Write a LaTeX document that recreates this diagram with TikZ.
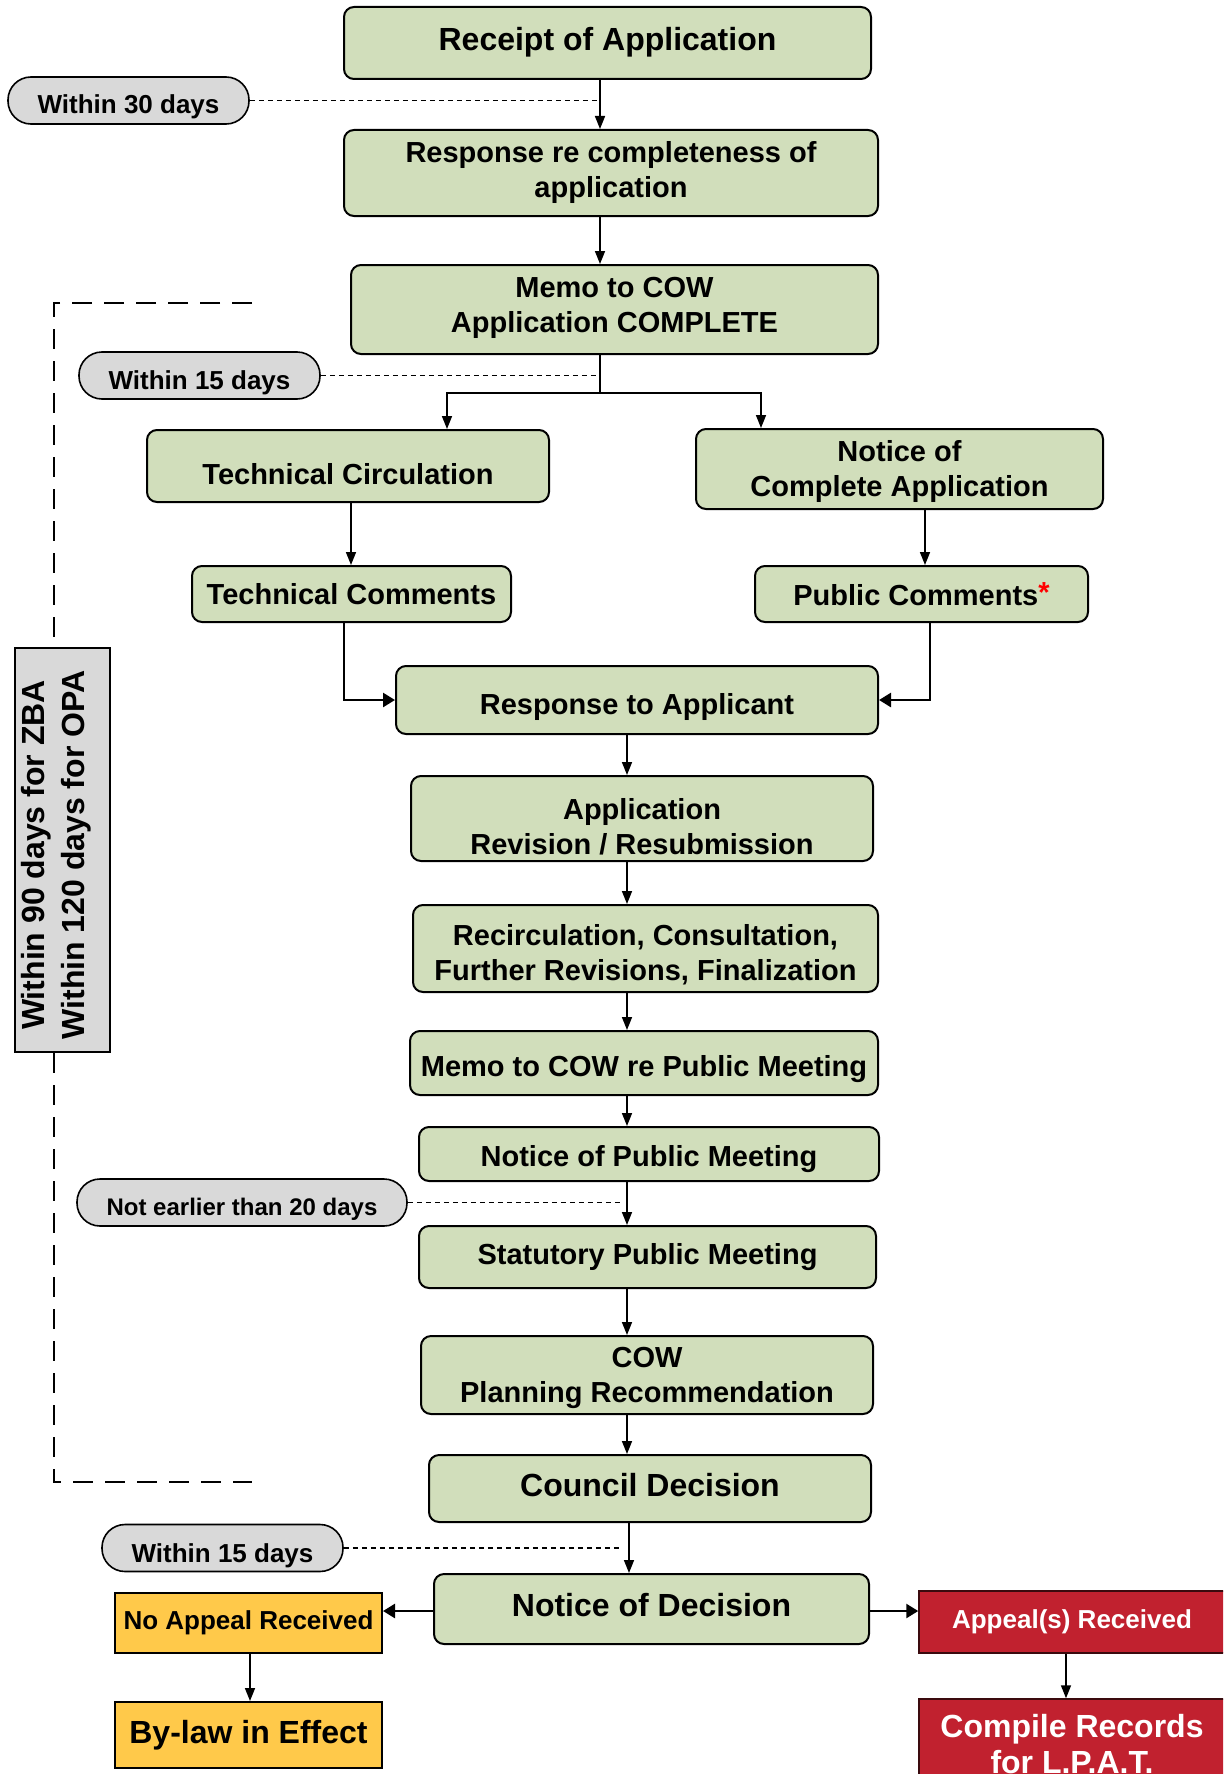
\documentclass[tikz,border=0pt]{standalone}
\usepackage{fontspec}
\setmainfont{Liberation Sans}
\usetikzlibrary{arrows.meta,calc}
\definecolor{boxgreen}{HTML}{D1DEBB}
\definecolor{pillgray}{HTML}{D9D9D9}
\definecolor{ygold}{HTML}{FFC94A}
\definecolor{rred}{HTML}{C1212F}
\newcommand{\dn}[2]{\raisebox{-#1}[\height][\depth]{\begin{tabular}{@{}c@{}}#2\end{tabular}}}
\begin{document}
\begin{tikzpicture}[x=1pt,y=-1pt,
  gbox/.style={draw=black, line width=2pt, fill=boxgreen, rounded corners=10pt, align=center, inner sep=0pt, font=\bfseries\fontsize{29}{35}\selectfont},
  bigtext/.style={font=\bfseries\fontsize{32}{38}\selectfont},
  pill/.style={draw=black, line width=1.6pt, fill=pillgray, rounded corners=23pt, inner sep=0pt, minimum height=47pt, font=\bfseries\fontsize{26}{30}\selectfont},
  ybox/.style={draw=black, line width=2pt, fill=ygold, inner sep=0pt, align=center},
  rbox/.style={draw=black!70!rred, line width=1.5pt, fill=rred, text=white, inner sep=0pt, align=center},
  conn/.style={line width=1.6pt},
  arr/.style={line width=1.6pt, -{Triangle[length=13pt,width=10pt]}},
  arrT/.style={line width=2.6pt, -{Triangle[length=12pt,width=14pt]}},
  dline/.style={line width=1.3pt, dash pattern=on 5pt off 4pt},
  bracket/.style={line width=2.6pt, dash pattern=on 20pt off 12pt}]
\clip (0,0) rectangle (1223,1774);
\useasboundingbox (0,0) rectangle (1223,1774);

% guide coordinates
\coordinate (cA) at (600,0);
\coordinate (cL) at (447,0);
\coordinate (cR) at (761,0);
\coordinate (cTC) at (351,0);
\coordinate (cNC) at (925,0);
\coordinate (cTL) at (344,0);
\coordinate (cPR) at (930,0);
\coordinate (cM) at (627,0);
\coordinate (cD) at (629,0);
\coordinate (cY) at (250,0);
\coordinate (cRd) at (1066,0);
\coordinate (yD) at (0,1611);
\coordinate (split) at (600,393);

% main boxes
\node[gbox, bigtext, minimum width=527pt, minimum height=72pt] (rec) at (607.5,43) {\dn{0pt}{Receipt of Application}};
\node[gbox, minimum width=534pt, minimum height=86pt] (resp) at (611,173) {Response re completeness of\\application};
\node[gbox, minimum width=527pt, minimum height=89pt] (memo) at (614.5,309.5) {\dn{-2pt}{Memo to COW\\Application COMPLETE}};
\node[gbox, minimum width=402pt, minimum height=72pt] (tc) at (348,466) {\dn{11pt}{Technical Circulation}};
\node[gbox, minimum width=407pt, minimum height=80pt] (nca) at (899.5,469) {\dn{3pt}{Notice of\\Complete Application}};
\node[gbox, minimum width=319pt, minimum height=56pt] (tcom) at (351.5,594) {Technical Comments};
\node[gbox, minimum width=333pt, minimum height=56pt] (pcom) at (921.5,594) {Public Comments\raisebox{3pt}{\textcolor{red}{*}}};
\node[gbox, minimum width=482pt, minimum height=68pt] (rta) at (637,700) {\dn{7pt}{Response to Applicant}};
\node[gbox, minimum width=462pt, minimum height=85pt] (arv) at (642,818.5) {\dn{11pt}{Application\\Revision / Resubmission}};
\node[gbox, minimum width=465pt, minimum height=87pt] (recirc) at (645.5,948.5) {\dn{7pt}{Recirculation, Consultation,\\Further Revisions, Finalization}};
\node[gbox, minimum width=468pt, minimum height=64pt] (memopm) at (644,1063) {\dn{6pt}{Memo to COW re Public Meeting}};
\node[gbox, minimum width=460pt, minimum height=54pt] (npm) at (649,1154) {\dn{5pt}{Notice of Public Meeting}};
\node[gbox, minimum width=457pt, minimum height=62pt] (spm) at (647.5,1257) {Statutory Public Meeting};
\node[gbox, minimum width=452pt, minimum height=78pt] (cow) at (647,1375) {\dn{3pt}{COW\\Planning Recommendation}};
\node[gbox, bigtext, minimum width=442pt, minimum height=67pt] (cd) at (650,1488.5) {\dn{0pt}{Council Decision}};
\node[gbox, bigtext, minimum width=435pt, minimum height=70pt] (nod) at (651.5,1609) {\dn{0pt}{Notice of Decision}};

% outcome boxes
\node[ybox, minimum width=267pt, minimum height=60pt, font=\bfseries\fontsize{26}{30}\selectfont] (noap) at (248.5,1623) {No Appeal Received};
\node[ybox, minimum width=267pt, minimum height=66pt, font=\bfseries\fontsize{32}{38}\selectfont] (bylaw) at (248.5,1735) {By-law in Effect};
\node[rbox, minimum width=312pt, minimum height=62pt, font=\bfseries\fontsize{26}{30}\selectfont] (appeal) at (1075,1622) {\hspace*{-6pt}Appeal(s) Received};
\node[rbox, minimum width=312pt, minimum height=90pt, font=\bfseries\fontsize{32}{36}\selectfont] (compile) at (1075,1744) {\hspace*{-6pt}Compile Records\\\hspace*{-6pt}for L.P.A.T.};

% time pills
\node[pill, minimum width=241pt] (e30) at (128.5,100.5) {\dn{7pt}{Within 30 days}};
\node[pill, minimum width=241pt] (e15a) at (199.5,375.5) {\dn{8pt}{Within 15 days}};
\node[pill, minimum width=330pt, font=\bfseries\fontsize{24}{28}\selectfont] (e20) at (242,1202.5) {\dn{7pt}{Not earlier than 20 days}};
\node[pill, minimum width=241pt] (e15b) at (222.5,1548) {\dn{8pt}{Within 15 days}};

% bracket with label
\node[draw=black, line width=2pt, fill=pillgray, minimum width=95pt, minimum height=404pt, inner sep=0pt] (zbr) at (62.5,850) {};
\node[rotate=90, align=center, font=\bfseries\fontsize{32}{40}\selectfont] (zbrt) at ($(zbr.center)+(-6,5)$) {Within 90 days for ZBA\\Within 120 days for OPA};
\coordinate (bt1) at (252,303);
\coordinate (bt2) at (54,303);
\coordinate (bb2) at (54,1482);
\coordinate (bb1) at (252,1482);
\draw[bracket] (bt1) -- (bt2) -- (zbr.north -| bt2);
\draw[bracket] (zbr.south -| bt2) -- (bb2) -- (bb1);

% dashed time connectors
\draw[dline] (e30.east) -- (e30.east -| cA);
\draw[dline] (e15a.east) -- ($(e15a.east -| cA)+(-3,0)$);
\draw[dline] (e20.east) -- ($(e20.east -| cM)+(-6,0)$);
\draw[dline] (e15b.east) -- ($(e15b.east -| cD)+(-8,0)$);

% connectors
\draw[arr] (rec.south -| cA) -- (resp.north -| cA);
\draw[arr] (resp.south -| cA) -- (memo.north -| cA);
\draw[conn] (memo.south -| cA) -- (split);
\draw[arr] (split) -| (tc.north -| cL);
\draw[arr] (split) -| (nca.north -| cR);
\draw[arr] (tc.south -| cTC) -- (tcom.north -| cTC);
\draw[arr] (nca.south -| cNC) -- (pcom.north -| cNC);
\draw[arrT] (tcom.south -| cTL) |- (rta.west);
\draw[arrT] (pcom.south -| cPR) |- (rta.east);
\draw[arr] (rta.south -| cM) -- (arv.north -| cM);
\draw[arr] (arv.south -| cM) -- (recirc.north -| cM);
\draw[arr] (recirc.south -| cM) -- (memopm.north -| cM);
\draw[arr] (memopm.south -| cM) -- (npm.north -| cM);
\draw[arr] (npm.south -| cM) -- (spm.north -| cM);
\draw[arr] (spm.south -| cM) -- (cow.north -| cM);
\draw[arr] (cow.south -| cM) -- (cd.north -| cM);
\draw[arr] (cd.south -| cD) -- (nod.north -| cD);
\draw[arrT] (nod.west |- yD) -- (noap.east |- yD);
\draw[arrT] (nod.east |- yD) -- (appeal.west |- yD);
\draw[arr] (noap.south -| cY) -- (bylaw.north -| cY);
\draw[arr] (appeal.south -| cRd) -- (compile.north -| cRd);
\end{tikzpicture}
\end{document}
